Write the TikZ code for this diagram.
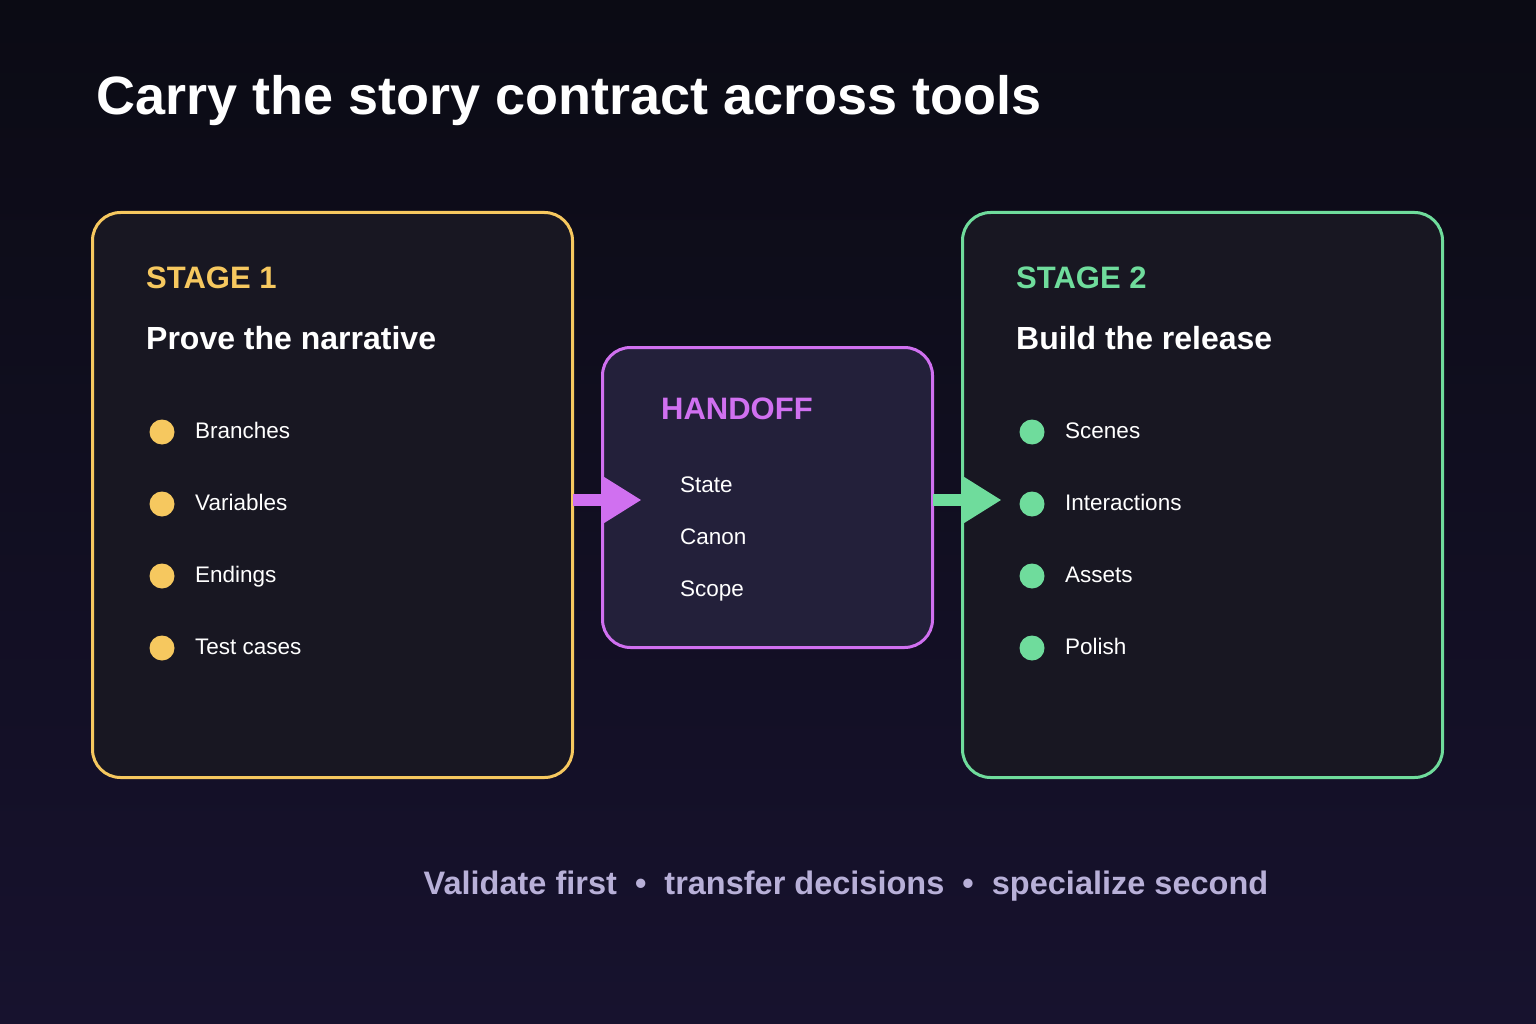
\documentclass[tikz,border=0pt]{standalone}
\usepackage{fontspec}
\setmainfont{Liberation Sans}
\usetikzlibrary{arrows.meta}
\definecolor{bgtop}{HTML}{0B0B14}
\definecolor{bgbot}{HTML}{17122E}
\definecolor{boxfill}{HTML}{181722}
\definecolor{hofill}{HTML}{23203A}
\definecolor{yel}{HTML}{F6C85F}
\definecolor{pur}{HTML}{D070F0}
\definecolor{grn}{HTML}{6FDC9C}
\definecolor{foot}{HTML}{B8B0D8}
\begin{document}
\begin{tikzpicture}[x=1pt,y=-1pt,
  panel/.style={draw,line width=3pt,rounded corners=28pt,anchor=north west,inner sep=0pt,outer sep=0pt},
  txt/.style={anchor=base west,inner sep=0pt},
  lbl/.style={txt,font=\bfseries\fontsize{31}{31}\selectfont},
  sub/.style={txt,text=white,font=\bfseries\fontsize{32}{32}\selectfont},
  item/.style={txt,text=white,font=\fontsize{22.5}{22.5}\selectfont},
  dot/.style={circle,inner sep=0pt,minimum size=25pt},
  conn/.style={line width=12pt,-{Triangle[length=38pt,width=44pt]}}]
\shade[top color=bgtop,bottom color=bgbot] (0,0) rectangle (1536,1024);
\useasboundingbox (0,0) rectangle (1536,1024);
\node[txt,text=white,font=\bfseries\fontsize{54}{54}\selectfont] (title) at (96,115) {Carry the story contract across tools};
\node[panel,draw=yel,fill=boxfill,minimum width=480pt,minimum height=565pt] (s1) at (92.5,212.5) {};
\node[panel,draw=pur,fill=hofill,minimum width=330pt,minimum height=300pt] (ho) at (602.5,347.5) {};
\node[panel,draw=grn,fill=boxfill,minimum width=480pt,minimum height=565pt] (s2) at (962.5,212.5) {};
\coordinate (c1) at (s1.east |- 0,500);
\coordinate (c2) at ([xshift=39pt]ho.west |- 0,500);
\coordinate (c3) at (ho.east |- 0,500);
\coordinate (c4) at ([xshift=39pt]s2.west |- 0,500);
\draw[conn,draw=pur,fill=pur] (c1) -- (c2);
\draw[conn,draw=grn,fill=grn] (c3) -- (c4);
\node[lbl,text=yel] (l1) at (146,289) {STAGE 1};
\node[sub] (t1) at (146,349) {Prove the narrative};
\node[lbl,text=grn] (l2) at (1016,289) {STAGE 2};
\node[sub] (t2) at (1016,349) {Build the release};
\node[lbl,text=pur] (lh) at (661,419) {HANDOFF};
\foreach \t [count=\i from 0] in {Branches,Variables,Endings,Test cases}{
  \node[dot,fill=yel] (a\i) at (162,432+72*\i) {};
  \node[item] (at\i) at (195,438+72*\i) {\t};}
\foreach \t [count=\i from 0] in {Scenes,Interactions,Assets,Polish}{
  \node[dot,fill=grn] (b\i) at (1032,432+72*\i) {};
  \node[item] (bt\i) at (1065,438+72*\i) {\t};}
\foreach \t [count=\i from 0] in {State,Canon,Scope}{
  \node[item] (h\i) at (680,492+52*\i) {\t};}
\node[anchor=base,inner sep=0pt,text=foot,font=\bfseries\fontsize{32.5}{32.5}\selectfont] (ft) at (846,894) {Validate first\ \ •\ \ transfer decisions\ \ •\ \ specialize second};
\end{tikzpicture}
\end{document}
